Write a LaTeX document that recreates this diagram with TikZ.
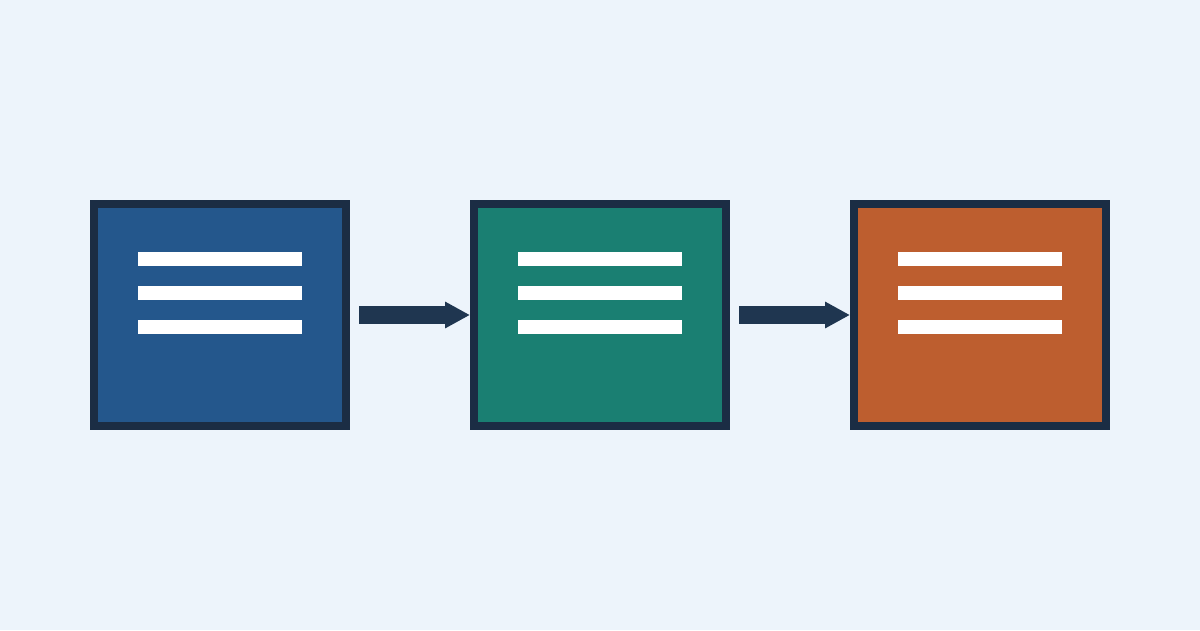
\documentclass[tikz,border=0pt]{standalone}
\usetikzlibrary{arrows.meta}
\definecolor{bgc}{HTML}{EDF4FB}
\definecolor{edgec}{HTML}{1B2D44}
\definecolor{arrowc}{HTML}{1F3650}
\definecolor{bluec}{HTML}{24578C}
\definecolor{tealc}{HTML}{1A7F72}
\definecolor{orangec}{HTML}{BD5E2F}
\begin{document}
\begin{tikzpicture}[x=1pt,y=-1pt,
  card/.style={draw=edgec, line width=8pt, minimum width=252pt, minimum height=222pt, inner sep=0pt, outer sep=4pt, rectangle},
  flow/.style={draw=arrowc, line width=18pt, -{Triangle[length=25pt,width=25pt]}, shorten <=9pt},
  bar/.style={fill=white}]
\fill[bgc] (0,0) rectangle (1200,630);
\useasboundingbox (0,0) rectangle (1200,630);
\node[card, fill=bluec] (b1) at (220,315) {};
\node[card, fill=tealc] (b2) at (600,315) {};
\node[card, fill=orangec] (b3) at (980,315) {};
\foreach \c in {220,600,980}{
  \foreach \y in {252,286,320}{
    \fill[bar] (\c-82,\y) rectangle (\c+82,\y+14);
  }
}
\draw[flow] (b1.east) -- (b2.west);
\draw[flow] (b2.east) -- (b3.west);
\end{tikzpicture}
\end{document}
